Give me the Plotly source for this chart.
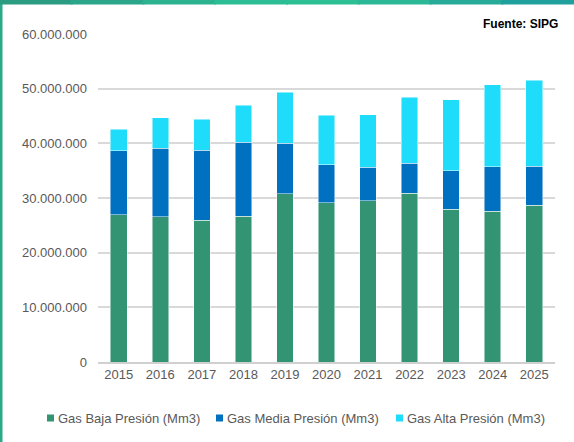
import plotly.graph_objects as go

years = ["2015", "2016", "2017", "2018", "2019", "2020", "2021", "2022", "2023", "2024", "2025"]
baja = [26.9, 26.6, 25.9, 26.7, 30.8, 29.1, 29.5, 30.9, 27.9, 27.6, 28.7]
media_top = [38.6, 39.1, 38.7, 40.2, 40.0, 36.1, 35.6, 36.4, 35.0, 35.7, 35.8]
total = [42.6, 44.7, 44.4, 47.0, 49.3, 45.1, 45.2, 48.4, 48.0, 50.7, 51.5]

baja_v = [v * 1e6 for v in baja]
media_v = [(m - b) * 1e6 for m, b in zip(media_top, baja)]
alta_v = [(t - m) * 1e6 for t, m in zip(total, media_top)]

names = ["Gas Baja Presión (Mm3)", "Gas Media Presión (Mm3)", "Gas Alta Presión (Mm3)"]
colors = ["#339473", "#0070C0", "#1FDCFA"]

W, H = 574, 442
ML, MR, MT, MB = 98, 19, 34, 80
PW, PH = W - ML - MR, H - MT - MB

fig = go.Figure()
for vals, name, col in zip([baja_v, media_v, alta_v], names, colors):
    fig.add_trace(go.Bar(
        x=years, y=vals, name=name,
        marker=dict(color=col, line=dict(color="rgba(255,255,255,0.6)", width=0.8)),
    ))

def px_x(p):
    return (p - ML) / PW

def px_y(p):
    return 1 - (p - MT) / PH

shapes = []
annotations = []
# left border strip
shapes.append(dict(type="rect", xref="paper", yref="paper",
                   x0=px_x(0), x1=px_x(2.5), y0=px_y(H), y1=px_y(0),
                   fillcolor="#2aa88a", line=dict(width=0), layer="above"))
# top gradient strip (segments overlap slightly to avoid seams)
top_cols = ["#2a9c82", "#2ba68a", "#2cb28f", "#2dbd94", "#2cbf94", "#2bb896", "#27ab98", "#20a09c"]
n = len(top_cols)
for i, c in enumerate(top_cols):
    shapes.append(dict(type="rect", xref="paper", yref="paper",
                       x0=px_x(W * i / n - 1), x1=px_x(W * (i + 1) / n + 1),
                       y0=px_y(4.5), y1=px_y(0),
                       fillcolor=c, line=dict(width=0), layer="above"))

# custom legend (squares + labels)
legend_sq_x = [47, 216, 396]
legend_y = 418
for sx, name, col in zip(legend_sq_x, names, colors):
    shapes.append(dict(type="rect", xref="paper", yref="paper",
                       x0=px_x(sx), x1=px_x(sx + 7), y0=px_y(legend_y + 3.5), y1=px_y(legend_y - 3.5),
                       fillcolor=col, line=dict(width=0)))
    annotations.append(dict(text=name, xref="paper", yref="paper",
                            x=px_x(sx + 9), y=px_y(legend_y), xanchor="left", yanchor="middle",
                            showarrow=False, font=dict(size=13, color="#595959")))

annotations.append(dict(text="<b>Fuente: SIPG</b>", xref="paper", yref="paper",
                        x=px_x(560), y=px_y(24), xanchor="right", yanchor="middle",
                        showarrow=False, font=dict(size=12, color="#000000")))

fig.update_layout(
    barmode="stack",
    bargap=0.6,
    width=W, height=H,
    margin=dict(l=ML, r=MR, t=MT, b=MB, autoexpand=False),
    paper_bgcolor="white", plot_bgcolor="white",
    separators=",.",
    font=dict(family="Liberation Sans, Arial, sans-serif", size=13, color="#595959"),
    showlegend=False,
    shapes=shapes,
    annotations=annotations,
)
fig.update_yaxes(range=[0, 60e6], tickvals=[0, 10e6, 20e6, 30e6, 40e6, 50e6, 60e6],
                 tickformat=",.0f", showgrid=True, gridcolor="#d9d9d9", gridwidth=1.5,
                 zeroline=False, showline=False, ticks="", ticklabelstandoff=10,
                 tickfont=dict(size=13, color="#595959"), fixedrange=True)
fig.update_xaxes(showline=True, linecolor="#d0d0d0", linewidth=1.5, ticks="",
                 tickfont=dict(size=13, color="#595959"), fixedrange=True)

fig.write_html("out.html", config={"displayModeBar": False})

with open("out.html", "r", encoding="utf-8") as f:
    html = f.read()
html = html.replace("<head>", "<head><style>html,body{margin:0;padding:0;overflow:hidden;}</style>", 1)
with open("out.html", "w", encoding="utf-8") as f:
    f.write(html)
